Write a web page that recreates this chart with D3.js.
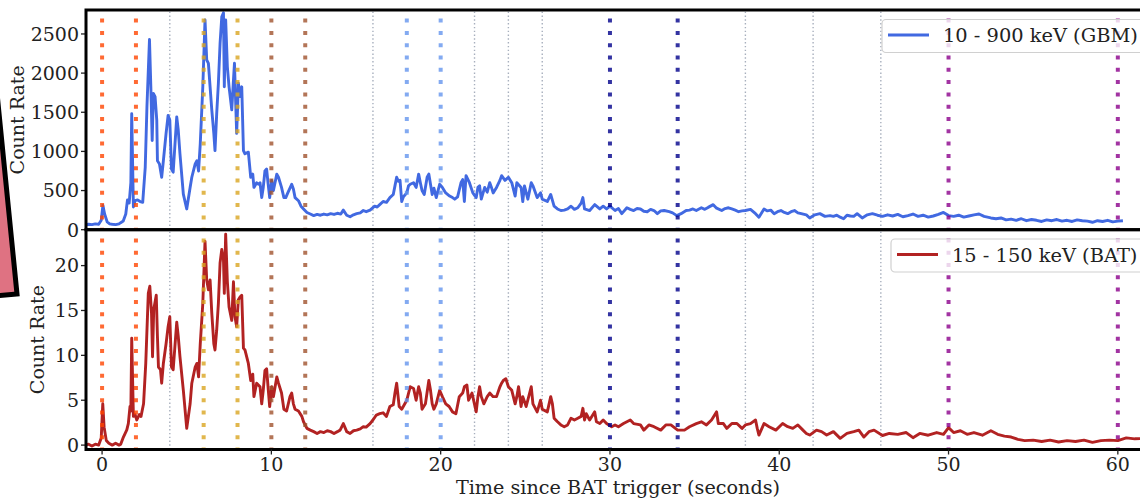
<!DOCTYPE html>
<html>
<head>
<meta charset="utf-8">
<script src="https://cdn.jsdelivr.net/npm/d3@7"></script>
<style>
  body { margin: 0; background: #fff; }
  svg { display: block; font-family: "DejaVu Serif", serif; }
</style>
</head>
<body>
<div id="chart"></div>
<script>
const svgWidth = 1140;
const svgHeight = 498;

// GBM 10 - 900 keV light curve (time, rate)
const gbmTime = [-1.0,-0.8,-0.6,-0.4,-0.2,-0.05,0.05,0.15,0.3,0.45,0.6,0.8,1.0,1.1,1.25,1.4,1.5,1.6,1.7,1.75,1.85,1.95,2.1,2.25,2.4,2.55,2.65,2.8,2.88,2.96,3.03,3.13,3.23,3.27,3.39,3.52,3.62,3.78,3.9,4.0,4.1,4.2,4.41,4.5,4.6,4.8,5.0,5.2,5.3,5.5,5.6,5.7,5.8,5.95,6.08,6.18,6.28,6.38,6.48,6.6,6.67,6.77,6.87,6.97,7.07,7.17,7.22,7.3,7.4,7.5,7.66,7.76,7.82,7.9,7.95,8.0,8.05,8.15,8.25,8.35,8.44,8.64,8.78,8.9,8.97,9.13,9.23,9.33,9.43,9.52,9.62,9.72,9.8,9.9,10.02,10.12,10.32,10.42,10.6,10.74,10.85,10.97,11.2,11.3,11.4,11.6,11.75,11.9,12.1,12.3,12.5,12.7,12.9,13.1,13.3,13.5,13.7,13.9,14.1,14.25,14.45,14.65,14.85,15.04,15.25,15.43,15.6,15.83,16.1,16.25,16.4,16.6,16.8,17.0,17.2,17.3,17.4,17.5,17.6,17.7,17.8,18.0,18.1,18.2,18.4,18.55,18.7,18.8,18.9,19.03,19.2,19.3,19.4,19.5,19.6,19.74,19.94,20.1,20.3,20.53,20.7,20.83,21.0,21.2,21.3,21.4,21.5,21.7,21.9,22.1,22.2,22.3,22.4,22.6,22.75,22.9,23.0,23.1,23.3,23.5,23.6,23.8,24.0,24.2,24.4,24.5,24.75,24.85,24.95,25.15,25.35,25.45,25.7,25.9,26.0,26.3,26.5,26.7,26.9,27.1,27.3,27.5,27.7,27.9,28.1,28.3,28.4,28.5,28.8,29.1,29.4,29.6,29.8,30.0,30.3,30.5,30.7,31.0,31.2,31.4,31.6,31.8,32.0,32.2,32.4,32.6,32.8,33.0,33.2,33.5,33.7,33.95,34.2,34.5,34.7,34.9,35.1,35.4,35.6,35.8,36.1,36.3,36.6,36.8,37.0,37.2,37.4,37.6,37.8,38.0,38.3,38.6,38.8,39.1,39.3,39.5,39.7,39.9,40.1,40.3,40.5,40.7,40.9,41.1,41.3,41.6,41.8,42.1,42.4,42.7,43.0,43.2,43.4,43.6,43.8,44.0,44.2,44.4,44.6,44.9,45.2,45.5,45.8,46.1,46.4,46.7,47.0,47.3,47.6,47.9,48.2,48.5,48.8,49.1,49.4,49.7,50.0,50.3,50.6,50.9,51.2,51.5,51.8,52.1,52.5,52.8,53.1,53.4,53.7,54.0,54.3,54.6,54.9,55.2,55.5,55.8,56.1,56.4,56.7,57.0,57.3,57.6,57.9,58.2,58.5,58.8,59.1,59.4,59.7,60.0,60.3,60.6,60.9,61.2,61.5,61.9];
const gbmRate = [60,70,65,75,70,120,310,200,100,75,70,65,75,90,110,200,380,340,600,1480,290,370,380,360,350,800,1570,2430,1825,1140,1740,1700,1400,880,840,670,880,1230,1460,1400,775,735,1440,1270,970,455,265,540,670,840,880,750,1100,1825,2680,2170,2125,1825,1530,1230,1010,1480,1870,2380,2720,2770,1825,2680,2080,1825,1530,1910,2125,1570,1230,1530,1870,1700,1825,1010,970,990,670,710,540,600,580,600,410,540,750,775,600,410,630,500,710,670,540,410,410,470,580,520,410,370,300,265,220,200,180,195,185,200,190,205,195,210,200,250,185,165,190,205,215,245,230,250,300,290,320,360,350,410,450,560,670,620,630,360,420,470,560,580,600,540,710,600,500,450,670,710,580,450,530,410,580,540,470,430,410,390,420,600,640,360,690,600,470,410,540,560,390,540,480,600,540,470,540,630,690,630,670,600,430,600,540,360,560,390,600,560,410,470,390,360,450,300,265,245,250,265,300,260,280,340,410,265,245,320,265,300,265,300,245,270,205,280,260,245,270,265,235,230,260,245,205,240,245,230,215,180,205,245,250,265,245,280,260,285,320,275,245,270,280,265,250,230,240,245,260,205,160,265,240,250,205,230,245,220,205,230,245,215,205,190,150,190,205,170,180,170,185,160,140,185,175,170,205,150,190,205,185,170,190,175,195,165,180,200,170,185,160,175,195,220,180,170,185,160,175,190,200,170,150,140,150,125,135,120,140,115,130,120,105,125,115,130,110,120,105,125,115,110,95,115,105,120,100,110,115];

// BAT 15 - 150 keV light curve (time, rate)
const batTime = [-1.0,-0.8,-0.6,-0.4,-0.2,-0.05,0.04,0.12,0.25,0.4,0.6,0.8,1.0,1.1,1.26,1.46,1.55,1.65,1.7,1.75,1.85,1.95,2.05,2.2,2.3,2.45,2.58,2.73,2.82,2.92,2.98,3.05,3.2,3.27,3.33,3.45,3.52,3.62,3.78,3.9,4.0,4.1,4.2,4.41,4.5,4.6,4.8,5.0,5.2,5.3,5.5,5.6,5.7,5.8,5.95,6.08,6.18,6.28,6.38,6.48,6.6,6.67,6.77,6.87,6.97,7.07,7.17,7.22,7.3,7.4,7.5,7.66,7.76,7.85,7.95,8.05,8.15,8.25,8.35,8.44,8.64,8.78,8.9,8.97,9.13,9.33,9.43,9.52,9.62,9.72,9.82,9.9,10.02,10.12,10.32,10.42,10.6,10.74,10.9,11.1,11.2,11.3,11.4,11.6,11.8,11.9,12.1,12.3,12.5,12.7,12.9,13.1,13.3,13.5,13.7,13.9,14.06,14.25,14.45,14.65,14.85,15.04,15.25,15.43,15.6,15.83,16.0,16.2,16.4,16.6,16.8,17.0,17.2,17.3,17.4,17.55,17.7,17.85,18.0,18.2,18.4,18.55,18.7,18.8,18.9,19.1,19.3,19.4,19.5,19.6,19.74,19.94,20.1,20.3,20.5,20.7,20.9,21.1,21.3,21.4,21.55,21.65,21.85,22.1,22.2,22.3,22.4,22.55,22.75,22.9,23.1,23.3,23.5,23.6,23.7,23.85,24.0,24.2,24.4,24.5,24.6,24.75,24.85,25.05,25.35,25.45,25.7,25.9,26.0,26.3,26.5,26.6,26.7,26.9,27.1,27.3,27.5,27.7,27.9,28.1,28.3,28.4,28.5,28.6,28.8,29.1,29.2,29.4,29.6,29.8,30.1,30.3,30.5,30.8,31.2,31.4,31.8,32.0,32.3,32.6,33.0,33.3,33.6,34.0,34.4,34.7,35.1,35.4,35.7,36.0,36.3,36.4,36.7,36.9,37.2,37.5,37.8,38.0,38.3,38.6,38.7,38.8,39.1,39.4,39.8,40.2,40.5,40.8,41.1,41.4,41.6,41.8,42.2,42.5,42.8,43.2,43.6,44.0,44.4,44.7,45.0,45.3,45.6,46.1,46.5,47.0,47.5,47.9,48.3,48.8,49.3,49.7,50.0,50.3,50.7,51.1,51.5,52.0,52.5,52.9,53.3,53.7,54.1,54.5,55.0,55.5,56.0,56.5,57.0,57.5,58.0,58.5,59.0,59.5,60.0,60.5,61.0,61.9];
const batRate = [0.0,0.1,-0.1,0.1,0.0,0.8,4.6,2.0,0.5,0.2,0.0,0.2,0.0,0.1,0.9,1.7,2.4,4.3,3.8,11.9,3.2,3.4,2.8,3.4,3.2,4.6,9.1,16.9,17.7,14.7,9.85,15.1,16.7,12.1,8.7,8.4,6.9,9.1,11.3,13.2,14.3,8.7,8.4,13.7,12.1,9.85,6.1,1.86,4.6,6.9,8.7,9.1,7.6,11.3,15.8,22.7,18.4,17.3,18.4,14.7,11.3,10.6,12.8,15.8,20.3,21.8,20.7,16.9,23.5,18.2,15.4,13.9,18.2,14.3,13.2,16.2,16.5,16.7,10.8,10.6,9.1,7.2,7.9,5.4,6.9,6.5,4.6,6.1,8.3,8.5,6.1,4.3,6.5,5.4,7.6,6.9,5.8,4.0,3.8,5.4,5.8,4.6,4.0,3.8,3.2,2.6,1.86,1.67,1.5,1.3,1.5,1.4,1.6,1.5,1.3,1.5,1.67,2.4,1.5,1.3,1.6,1.67,1.8,2.05,2.0,2.4,2.8,3.35,3.5,3.6,3.2,4.3,4.5,5.8,6.9,4.3,4.0,4.5,5.0,6.5,6.3,5.0,6.5,5.8,4.0,4.6,7.2,6.1,4.6,4.0,4.6,6.1,5.4,4.6,4.3,3.7,3.5,5.4,5.8,6.5,6.7,5.0,5.8,3.7,5.4,6.5,5.4,4.6,5.4,5.8,5.4,5.4,6.5,6.9,7.2,7.4,6.5,6.1,4.6,5.4,6.5,4.3,5.4,4.3,6.5,4.6,3.7,5.0,4.0,3.7,5.4,4.6,3.0,2.6,2.25,2.05,2.25,3.0,2.8,3.0,3.2,4.1,2.8,3.5,2.8,3.7,2.6,2.4,2.8,2.4,2.05,2.25,2.05,2.4,2.8,2.4,2.25,1.67,2.25,2.05,1.67,2.25,2.25,1.67,1.67,2.05,2.4,2.6,2.25,2.8,3.7,2.4,2.4,1.86,2.4,2.4,1.86,2.25,2.4,2.8,1.86,1.12,2.4,2.05,1.67,2.4,2.05,1.86,2.25,1.67,1.3,1.12,1.67,1.5,1.12,1.5,0.75,1.3,1.5,1.67,0.9,1.5,1.67,1.07,1.3,1.2,1.4,0.83,1.3,1.1,1.4,1.2,1.95,1.4,1.6,1.2,1.4,1.1,1.6,1.2,1.0,0.9,0.64,0.5,0.56,0.4,0.56,0.35,0.5,0.4,0.56,0.3,0.5,0.56,0.5,0.8,0.7,0.75];

// marked intervals (pairs of thick dotted lines) and thin guide lines
const markerTimes = [0, 2, 6, 8, 10, 12, 18, 20, 30, 34, 50, 60];
const markerColors = ['#ff4500', '#ff4500', '#daa520', '#daa520', '#a0522d', '#a0522d',
                      '#6495ed', '#6495ed', '#00008b', '#00008b', '#8b008b', '#8b008b'];
const guideTimes = [4, 16, 22, 24, 26, 38, 42, 46];

const xTicks = [0, 10, 20, 30, 40, 50, 60];
const gbmTicks = [0, 500, 1000, 1500, 2000, 2500];
const batTicks = [0, 5, 10, 15, 20];

const left = 86, right = 1150;
const topPanel = { top: 10, bottom: 229.7 };
const botPanel = { top: 229.7, bottom: 449.5 };

const svg = d3.select('#chart')
    .append('svg')
    .attr('width', svgWidth)
    .attr('height', svgHeight);

const x = d3.scaleLinear().domain([-0.95, 61.9]).range([left, right]);
const yTop = d3.scaleLinear().domain([0, 2806]).range([topPanel.bottom, topPanel.top]);
const yBot = d3.scaleLinear().domain([-0.49, 24.0]).range([botPanel.bottom, botPanel.top]);

function drawPanel(id, panel, y, times, rates, color, ticks, label, legendBox) {
    const g = svg.append('g');

    g.append('clipPath').attr('id', id)
        .append('rect')
        .attr('x', left).attr('y', panel.top)
        .attr('width', right - left).attr('height', panel.bottom - panel.top);

    const plot = g.append('g').attr('clip-path', `url(#${id})`);

    plot.selectAll('.guide')
        .data(guideTimes)
        .join('line')
        .attr('x1', d => x(d)).attr('x2', d => x(d))
        .attr('y1', panel.bottom).attr('y2', panel.top)
        .attr('stroke', '#a7afbd')
        .attr('stroke-width', 1.4)
        .attr('stroke-dasharray', '1.4,2.4');

    const line = d3.line()
        .x((d, i) => x(times[i]))
        .y(d => y(d));

    plot.append('path')
        .datum(rates)
        .attr('fill', 'none')
        .attr('stroke', color)
        .attr('stroke-width', 2.9)
        .attr('stroke-linejoin', 'round')
        .attr('d', line);

    plot.selectAll('.marker')
        .data(markerTimes)
        .join('line')
        .attr('x1', d => x(d)).attr('x2', d => x(d))
        .attr('y1', panel.bottom + 2).attr('y2', panel.top)
        .attr('stroke', (d, i) => markerColors[i])
        .attr('stroke-opacity', 0.8)
        .attr('stroke-width', 4)
        .attr('stroke-dasharray', '4,8.3');

    // y axis
    const yAxis = g.append('g');
    yAxis.selectAll('line')
        .data(ticks)
        .join('line')
        .attr('x1', left - 5).attr('x2', left)
        .attr('y1', d => y(d)).attr('y2', d => y(d))
        .attr('stroke', '#222').attr('stroke-width', 1.3);
    yAxis.selectAll('text')
        .data(ticks)
        .join('text')
        .attr('x', left - 7)
        .attr('y', d => y(d))
        .attr('dy', '0.36em')
        .attr('text-anchor', 'end')
        .attr('font-size', 19)
        .attr('fill', '#222')
        .text(d => d);

    const cy = (panel.top + panel.bottom) / 2;
    g.append('text')
        .attr('transform', `translate(${label.x},${cy}) rotate(-90)`)
        .attr('text-anchor', 'middle')
        .attr('font-size', 19)
        .attr('fill', '#222')
        .text('Count Rate');

    // legend
    const lg = g.append('g');
    lg.append('rect')
        .attr('x', legendBox.x).attr('y', legendBox.y)
        .attr('width', 270).attr('height', 33)
        .attr('rx', 4)
        .attr('fill', 'white').attr('fill-opacity', 0.8)
        .attr('stroke', '#d0d0d0').attr('stroke-width', 1.2);
    lg.append('line')
        .attr('x1', legendBox.x + 6).attr('x2', legendBox.x + 47)
        .attr('y1', legendBox.y + 15.5).attr('y2', legendBox.y + 15.5)
        .attr('stroke', color).attr('stroke-width', 2.9);
    lg.append('text')
        .attr('x', legendBox.x + 61)
        .attr('y', legendBox.y + 22.5)
        .attr('font-size', 19.4)
        .attr('fill', '#222')
        .text(legendBox.text);

    g.append('rect')
        .attr('x', left).attr('y', panel.top)
        .attr('width', right - left).attr('height', panel.bottom - panel.top)
        .attr('fill', 'none')
        .attr('stroke', '#000')
        .attr('stroke-width', 3);
}

drawPanel('clip-top', topPanel, yTop, gbmTime, gbmRate, '#4169e1', gbmTicks,
    { x: 24 }, { x: 882, y: 19.5, text: '10 - 900 keV (GBM)' });
drawPanel('clip-bot', botPanel, yBot, batTime, batRate, '#b22222', batTicks,
    { x: 44 }, { x: 891, y: 239, text: '15 - 150 keV (BAT)' });

// x axis on the lower panel
const xAxis = svg.append('g');
xAxis.selectAll('line')
    .data(xTicks)
    .join('line')
    .attr('x1', d => x(d)).attr('x2', d => x(d))
    .attr('y1', botPanel.bottom).attr('y2', botPanel.bottom + 5)
    .attr('stroke', '#222').attr('stroke-width', 1.3);
xAxis.selectAll('text')
    .data(xTicks)
    .join('text')
    .attr('x', d => x(d))
    .attr('y', 471)
    .attr('text-anchor', 'middle')
    .attr('font-size', 19)
    .attr('fill', '#222')
    .text(d => d);

svg.append('text')
    .attr('x', (left + right) / 2)
    .attr('y', 494)
    .attr('text-anchor', 'middle')
    .attr('font-size', 19.2)
    .attr('fill', '#222')
    .text('Time since BAT trigger (seconds)');

// partly visible shape at the left edge
svg.append('path')
    .attr('d', 'M-5.3,70 L17,294 L-60,301 L-60,70 Z')
    .attr('fill', '#df7282')
    .attr('stroke', '#000')
    .attr('stroke-width', 5)
    .attr('stroke-linejoin', 'miter');
</script>
</body>
</html>
